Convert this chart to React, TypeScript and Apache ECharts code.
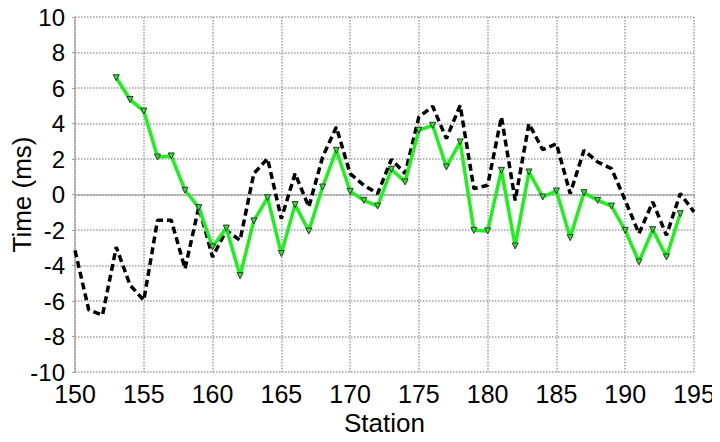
import React, { useEffect, useRef } from "react";
import * as echarts from "echarts";

const blackStations = [150,151,152,153,154,155,156,157,158,159,160,161,162,163,164,165,166,167,168,169,170,171,172,173,174,175,176,177,178,179,180,181,182,183,184,185,186,187,188,189,190,191,192,193,194,195];
const blackValues = [-3.15,-6.5,-6.8,-2.96,-5.1,-5.96,-1.45,-1.45,-4.18,-0.7,-3.52,-2.02,-2.58,1.18,2.02,-1.36,1.18,-0.7,2.11,3.8,1.18,0.52,0.05,1.98,1.18,4.37,4.97,3.15,5.02,0.33,0.52,4.37,-0.33,3.99,2.53,2.86,0.05,2.49,1.83,1.46,-0.33,-2.2,-0.42,-2.3,0.05,-0.98];

const greenStations = [153,154,155,156,157,158,159,160,161,162,163,164,165,166,167,168,169,170,171,172,173,174,175,176,177,178,179,180,181,182,183,184,185,186,187,188,189,190,191,192,193,194];
const greenValues = [6.58,5.35,4.7,2.11,2.17,0.24,-0.74,-2.96,-1.89,-4.57,-1.49,-0.18,-3.33,-0.57,-2.06,0.42,2.49,0.18,-0.33,-0.65,1.42,0.71,3.62,3.9,1.55,2.96,-2.02,-2.05,1.36,-2.9,1.27,-0.14,0.2,-2.43,0.1,-0.33,-0.65,-2.02,-3.8,-1.98,-3.52,-1.08];

const xTicks = { min: 150, max: 195, interval: 5 };
const yTicks = { min: -10, max: 10, interval: 2 };

const FONT = "'Liberation Sans', Arial, sans-serif";

export default function App() {
  const ref = useRef<HTMLDivElement>(null);
  useEffect(() => {
    if (!ref.current) return;
    const chart = echarts.init(ref.current, undefined, { renderer: "svg" });
    const gridLine = { show: true, lineStyle: { type: "dotted" as const, color: "#a0a0a0", width: 1.5 } };
    chart.setOption({
      animation: false,
      backgroundColor: "#ffffff",
      grid: { left: 75, right: 26, top: 17, bottom: 70, containLabel: false, outerBoundsMode: "none" },
      xAxis: {
        type: "value",
        min: xTicks.min,
        max: xTicks.max,
        interval: xTicks.interval,
        name: "Station",
        nameLocation: "middle",
        nameGap: 38,
        nameMoveOverlap: false,
        nameTextStyle: { fontFamily: FONT, fontSize: 26, color: "#000" },
        axisLine: { show: true, lineStyle: { type: "dotted", color: "#a0a0a0", width: 1.5 } },
        axisTick: { show: true, length: 3, lineStyle: { color: "#a0a0a0" } },
        axisLabel: { fontFamily: FONT, fontSize: 25, color: "#000", margin: 9 },
        splitLine: gridLine,
      },
      yAxis: {
        type: "value",
        min: yTicks.min,
        max: yTicks.max,
        interval: yTicks.interval,
        name: "Time (ms)",
        nameLocation: "middle",
        nameGap: 40,
        nameMoveOverlap: false,
        nameTextStyle: { fontFamily: FONT, fontSize: 26, color: "#000" },
        axisLine: { show: true, lineStyle: { type: "dotted", color: "#a0a0a0", width: 1.5 } },
        axisTick: { show: true, length: 3, lineStyle: { color: "#a0a0a0" } },
        axisLabel: { fontFamily: FONT, fontSize: 24, color: "#000", margin: 10 },
        splitLine: gridLine,
      },
      series: [
        {
          type: "line",
          name: "black",
          data: blackStations.map((s, i) => [s, blackValues[i]]),
          showSymbol: false,
          symbol: "none",
          lineStyle: { color: "#000", width: 3.5, type: [7, 4] },
          z: 2,
        },
        {
          type: "line",
          name: "green",
          data: greenStations.map((s, i) => [s, greenValues[i]]),
          symbol: "triangle",
          symbolRotate: 180,
          symbolSize: 6,
          itemStyle: { color: "#1ef01e", borderColor: "#333", borderWidth: 1 },
          lineStyle: { color: "#1ef01e", width: 3.5 },
          z: 3,
        },
      ],
    });
    return () => chart.dispose();
  }, []);
  return <div ref={ref} style={{ width: 720, height: 442, margin: -8 }} />;
}
